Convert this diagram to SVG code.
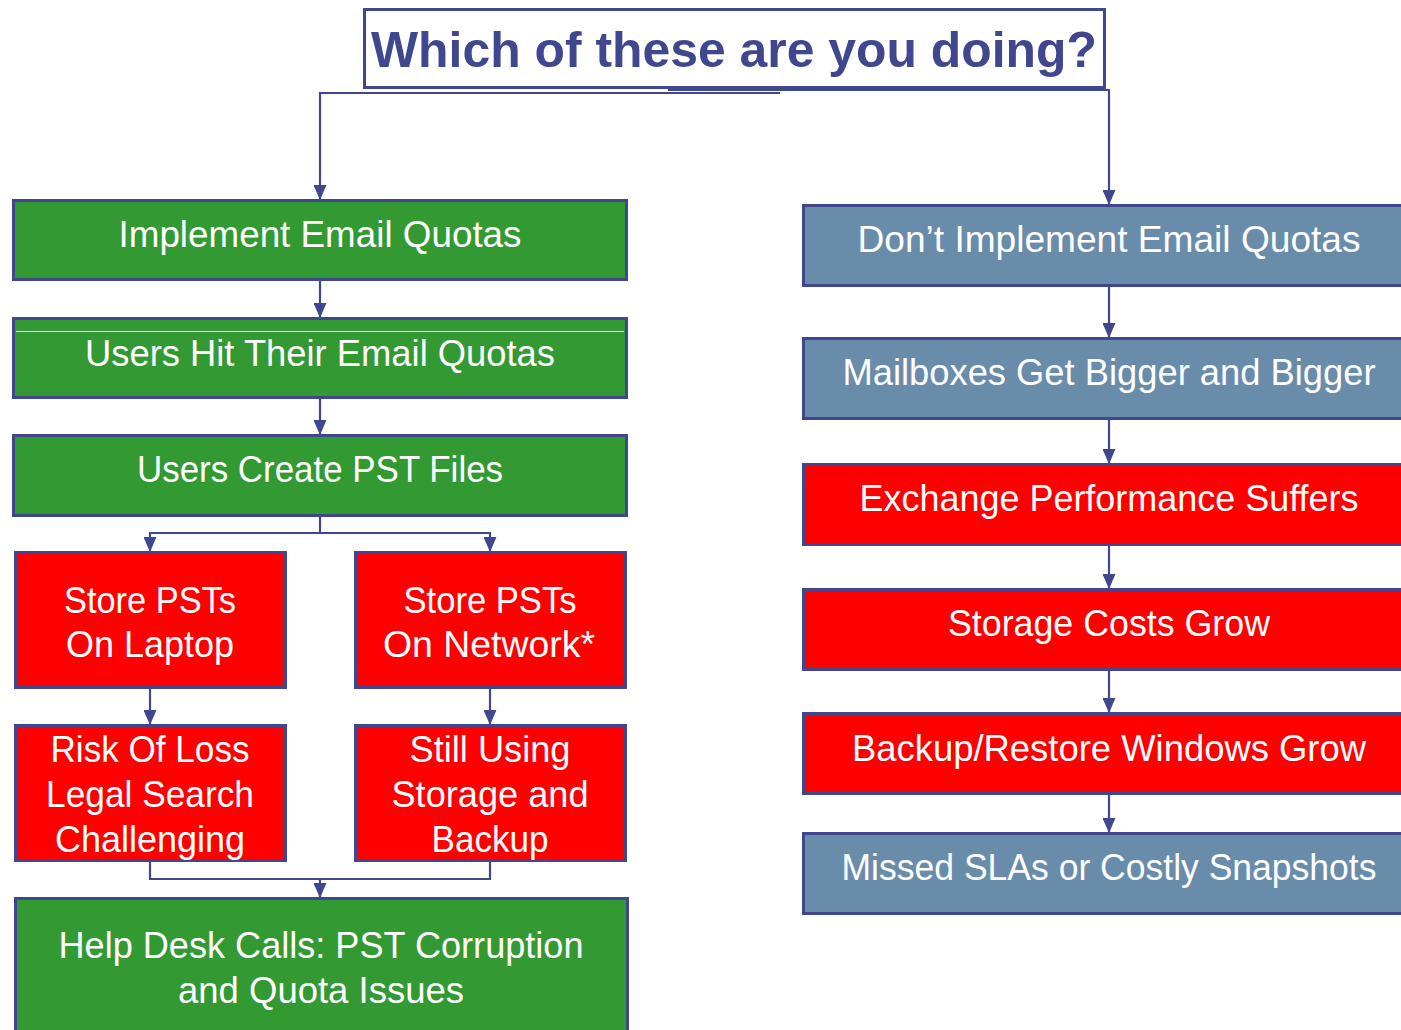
<svg xmlns="http://www.w3.org/2000/svg" width="1401" height="1030" viewBox="0 0 1401 1030">
<style>
.box{stroke:#40478f;stroke-width:3}
.g{fill:#339933}
.r{fill:#ff0000}
.b{fill:#6a8cab}
.t{font-family:"Liberation Sans",Arial,sans-serif;font-size:36px;fill:#ffffff;text-anchor:middle}
.title{font-family:"Liberation Sans",Arial,sans-serif;font-size:50px;font-weight:bold;fill:#40478f;text-anchor:middle}
.c{fill:none;stroke:#40478f;stroke-width:2.2}
</style>
<defs>
<marker id="arr" markerUnits="userSpaceOnUse" markerWidth="15" markerHeight="13" viewBox="0 0 15 13" refX="15" refY="6.5" orient="auto">
<path d="M0,0 L15,6.5 L0,13 z" fill="#40478f"/>
</marker>
</defs>
<rect width="1401" height="1030" fill="#ffffff"/>

<g id="connectors">
<path class="c" d="M780,93 H320 V200" marker-end="url(#arr)"/>
<path class="c" d="M668,90 H1109 V205" marker-end="url(#arr)"/>
<path class="c" d="M320,280 V318" marker-end="url(#arr)"/>
<path class="c" d="M320,398 V435" marker-end="url(#arr)"/>
<path class="c" d="M320,515 V533 H150 V552" marker-end="url(#arr)"/>
<path class="c" d="M320,533 H490 V552" marker-end="url(#arr)"/>
<path class="c" d="M150,688 V725" marker-end="url(#arr)"/>
<path class="c" d="M490,688 V725" marker-end="url(#arr)"/>
<path class="c" d="M150,861 V879 H490 V861"/>
<path class="c" d="M320,879 V898" marker-end="url(#arr)"/>
<path class="c" d="M1109,285 V338" marker-end="url(#arr)"/>
<path class="c" d="M1109,419 V464" marker-end="url(#arr)"/>
<path class="c" d="M1109,545 V589" marker-end="url(#arr)"/>
<path class="c" d="M1109,670 V713" marker-end="url(#arr)"/>
<path class="c" d="M1109,794 V833" marker-end="url(#arr)"/>
</g>

<g id="title">
<rect x="364.5" y="9.5" width="740" height="78" fill="#ffffff" class="box"/>
<text class="title" x="734" y="67" textLength="726" lengthAdjust="spacingAndGlyphs">Which of these are you doing?</text>
</g>

<g id="n-implement">
<rect class="box g" x="13.5" y="200.5" width="613" height="79"/>
<text class="t" x="320" y="247" textLength="403" lengthAdjust="spacingAndGlyphs">Implement Email Quotas</text>
</g>

<g id="n-hit">
<rect class="box g" x="13.5" y="318.5" width="613" height="79"/>
<line x1="16" y1="331.5" x2="624" y2="331.5" stroke="#ffffff" stroke-width="1.2"/>
<text class="t" x="320" y="366" textLength="470" lengthAdjust="spacingAndGlyphs">Users Hit Their Email Quotas</text>
</g>

<g id="n-pst">
<rect class="box g" x="13.5" y="435.5" width="613" height="80"/>
<text class="t" x="320" y="482" textLength="366" lengthAdjust="spacingAndGlyphs">Users Create PST Files</text>
</g>

<g id="n-laptop">
<rect class="box r" x="15.5" y="552.5" width="270" height="135"/>
<text class="t" x="150" y="613" textLength="172" lengthAdjust="spacingAndGlyphs">Store PSTs</text>
<text class="t" x="150" y="657" textLength="168" lengthAdjust="spacingAndGlyphs">On Laptop</text>
</g>

<g id="n-network">
<rect class="box r" x="355.5" y="552.5" width="270" height="135"/>
<text class="t" x="490" y="613" textLength="173" lengthAdjust="spacingAndGlyphs">Store PSTs</text>
<text class="t" x="489" y="657" textLength="212" lengthAdjust="spacingAndGlyphs">On Network*</text>
</g>

<g id="n-risk">
<rect class="box r" x="15.5" y="725.5" width="270" height="135"/>
<text class="t" x="150" y="762" textLength="199" lengthAdjust="spacingAndGlyphs">Risk Of Loss</text>
<text class="t" x="150" y="807" textLength="208" lengthAdjust="spacingAndGlyphs">Legal Search</text>
<text class="t" x="150" y="852" textLength="190" lengthAdjust="spacingAndGlyphs">Challenging</text>
</g>

<g id="n-still">
<rect class="box r" x="355.5" y="725.5" width="270" height="135"/>
<text class="t" x="490" y="762" textLength="161" lengthAdjust="spacingAndGlyphs">Still Using</text>
<text class="t" x="490" y="807" textLength="197" lengthAdjust="spacingAndGlyphs">Storage and</text>
<text class="t" x="490" y="852" textLength="117" lengthAdjust="spacingAndGlyphs">Backup</text>
</g>

<g id="n-helpdesk">
<rect class="box g" x="15.5" y="898.5" width="612" height="150"/>
<text class="t" x="321" y="958" textLength="525" lengthAdjust="spacingAndGlyphs">Help Desk Calls: PST Corruption</text>
<text class="t" x="321" y="1003" textLength="286" lengthAdjust="spacingAndGlyphs">and Quota Issues</text>
</g>

<g id="n-dont">
<rect class="box b" x="803.5" y="205.5" width="620" height="80"/>
<text class="t" x="1109" y="252" textLength="503" lengthAdjust="spacingAndGlyphs">Don’t Implement Email Quotas</text>
</g>

<g id="n-mailboxes">
<rect class="box b" x="803.5" y="338.5" width="620" height="80"/>
<text class="t" x="1109" y="385" textLength="533" lengthAdjust="spacingAndGlyphs">Mailboxes Get Bigger and Bigger</text>
</g>

<g id="n-exchange">
<rect class="box r" x="803.5" y="464.5" width="620" height="80"/>
<text class="t" x="1109" y="511" textLength="499" lengthAdjust="spacingAndGlyphs">Exchange Performance Suffers</text>
</g>

<g id="n-storage">
<rect class="box r" x="803.5" y="589.5" width="620" height="80"/>
<text class="t" x="1109" y="636" textLength="322" lengthAdjust="spacingAndGlyphs">Storage Costs Grow</text>
</g>

<g id="n-backup">
<rect class="box r" x="803.5" y="713.5" width="620" height="80"/>
<text class="t" x="1109" y="761" textLength="514" lengthAdjust="spacingAndGlyphs">Backup/Restore Windows Grow</text>
</g>

<g id="n-missed">
<rect class="box b" x="803.5" y="833.5" width="620" height="80"/>
<text class="t" x="1109" y="880" textLength="535" lengthAdjust="spacingAndGlyphs">Missed SLAs or Costly Snapshots</text>
</g>
</svg>
